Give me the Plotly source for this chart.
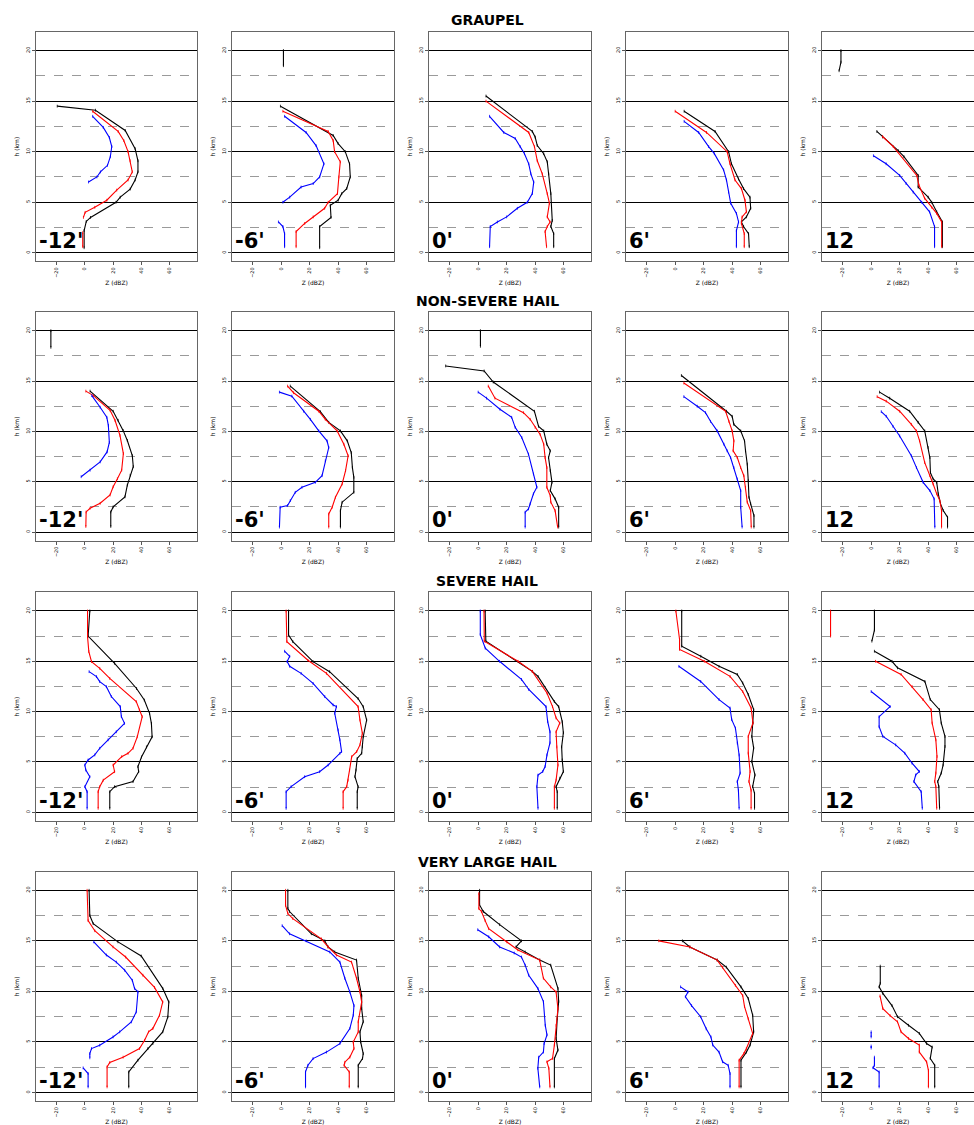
import plotly.graph_objects as go

# ---------------- data: (height km, Z dBZ) pairs per profile; None = gap ----------------
CATEGORIES = ["GRAUPEL", "NON-SEVERE HAIL", "SEVERE HAIL", "VERY LARGE HAIL"]
TIMES = ["-12'", "-6'", "0'", "6'", "12"]
Y_TICKS = [0, 5, 10, 15, 20]
Y_MINOR = [2.5, 7.5, 12.5, 17.5]
X_TICKS = [-20, 0, 20, 40, 60]

graupel_black = [
    [(0.5, -0.5), (2.2, -0.5), (3.1, 1), (3.5, 4), (5.0, 22), (5.5, 25), (6.3, 32), (7.2, 35.5), (8.0, 37.5),
     (9.1, 37.5), (10.3, 35.5), (12.1, 28.5), (14.1, 7.5), (14.5, -19.5)],
    [(0.5, 27), (2.6, 27), (3.5, 35), (4.7, 34.5), (5.2, 40), (5.85, 42.5), (6.35, 46), (7.5, 48.5), (8.8, 48),
     (10.0, 45), (10.8, 40), (11.6, 36.5), (14.5, -0.5), None, (18.5, 1.6), (20.0, 1.6)],
    [(0.6, 53), (1.9, 53), (2.6, 51), (3.2, 52), (5.85, 51), (7.8, 49.5), (9.0, 48.5), (9.8, 46), (10.6, 41.5),
     (11.45, 40), (12.0, 38), (15.5, 5.5)],
    [(0.6, 52), (1.9, 51.5), (2.6, 48), (3.05, 46.5), (3.55, 50), (4.4, 53), (5.5, 52.5), (6.35, 48), (7.3, 44.5),
     (8.8, 39.5), (10.0, 37.5), (12.0, 28), (14.0, 6.3)],
    [(0.6, 50), (3.05, 50), (4.05, 46), (5.0, 42.5), (5.5, 40), (6.5, 33), (7.65, 33), (9.5, 23), (10.1, 19),
     (11.45, 8), (12.0, 4), None, (18.0, -22.5), (18.85, -21.2), (20.0, -21.2)],
]
graupel_red = [
    [(0.6, -1.5), (2.0, -1.5), None, (3.5, -1), (4.0, 0.2), (4.5, 7), (5.2, 15.5), (6.2, 22.5), (7.2, 30.5),
     (8.0, 33.5), (9.1, 32), (10.0, 30.5), (11.1, 27.5), (12.0, 23.5), (14.0, 5.5)],
    [(0.6, 10.5), (2.1, 10.5), (2.9, 16.5), (3.55, 22.5), (4.4, 30.5), (5.0, 33), (5.85, 39.5), (7.5, 40.5),
     (9.0, 41.5), (10.0, 37.5), (11.1, 36.5), (12.0, 33), (14.0, 1.2)],
    [(0.6, 48), (2.1, 47), (2.6, 48.5), (3.05, 50.5), (3.55, 48.5), (4.9, 50), (5.85, 48.5), (7.8, 45), (9.1, 41.5),
     (10.5, 39.5), (11.9, 35.5), (15.0, 5.5)],
    [(0.6, 48.5), (1.9, 48.5), (2.9, 46.5), (3.55, 47), (4.05, 50), (5.2, 49), (6.35, 46.5), (7.2, 42), (8.8, 38.5),
     (10.0, 36.5), (11.9, 22), (14.0, 0)],
    [(0.6, 49.5), (3.05, 49.5), (3.9, 46), (4.5, 42.5), (5.4, 37.5), (6.7, 33.5), (7.65, 32), (10.5, 15.5),
     (11.5, 8)],
]
graupel_blue = [
    [(7.0, 2.6), (7.5, 8.5), (8.0, 11), (8.65, 16), (9.5, 18), (10.5, 19), (11.4, 17.3), (12.4, 13), (13.5, 5.5)],
    [(0.6, 2.4), (1.9, 2.4), (2.6, 1.2), (3.05, -1.9), None, (5.0, 1.2), (5.5, 6), (6.5, 14), (6.85, 22.5),
     (7.5, 27), (8.8, 30), (10.6, 24.5), (11.9, 17.5), (13.5, 2.4)],
    [(0.6, 8), (2.6, 8.5), (3.05, 13.5), (3.55, 20), (4.4, 27.5), (5.0, 34.5), (5.85, 38), (7.0, 39), (7.8, 37),
     (8.8, 35.5), (9.8, 32.5), (10.5, 29.5), (11.3, 26), (11.9, 18), (13.5, 8)],
    [(0.6, 43), (2.2, 43), (3.05, 44.5), (3.9, 43), (4.9, 39), (6.0, 37.5), (7.2, 36), (8.2, 34), (9.8, 27.5),
     (10.5, 23.5), (11.9, 16.5), (13.0, 6.3)],
    [(0.6, 44.5), (2.6, 44.5), (4.05, 41), (5.0, 35.5), (6.0, 29.5), (6.85, 24.5), (7.65, 20), (8.8, 10.5),
     (9.6, 1.6)],
]

nonsevere_black = [
    [(0.56, 18.3), (2.0, 18.3), (2.5, 20), (3.5, 28.3), (4.67, 30), (5.65, 32), (6.5, 34.2), (7.6, 33.5),
     (9.1, 30), (10.1, 27), (11.1, 23.5), (12.0, 20), (14.0, 3.7), None, (18.35, -24), (20.0, -24)],
    [(0.5, 41.6), (2.14, 41.6), (2.97, 42.8), (3.95, 51), (5.44, 51), (6.4, 50), (7.9, 49.2), (9.06, 46.4),
     (10.05, 41.6), (10.9, 33.4), (11.96, 27.5), (14.5, 6.4)],
    [(0.5, 56.5), (2.47, 56.5), (3.3, 54), (4.12, 50.6), (4.94, 51.8), (6.1, 50.6), (7.4, 49.4), (8.07, 50.6),
     (8.73, 48.2), (10.05, 46), (10.5, 42.4), (12.0, 39.5), (14.9, 10.6), (16.0, 4.2), (16.5, -22.8), None,
     (18.45, 1.6), (20.0, 1.6)],
    [(0.5, 55.3), (1.65, 55.3), (2.8, 53), (3.46, 51.8), (5.1, 51.3), (6.75, 50.6), (8.07, 49.4), (9.06, 48.7),
     (10.05, 46), (10.7, 41.2), (11.5, 40), (12.0, 36), (15.55, 4.4)],
    [(0.5, 53.6), (1.48, 53.6), (2.14, 50.6), (2.8, 48.7), (3.8, 47.1), (4.94, 46), (5.27, 43.5), (5.9, 41.6),
     (7.4, 41.2), (8.4, 40), (10.05, 37.6), (10.9, 33), (12.0, 27), (13.3, 13), (13.9, 5.9)],
]
nonsevere_red = [
    [(0.56, 0.7), (2.0, 0.9), (2.37, 3.7), (2.86, 10.8), (3.68, 17.8), (4.5, 20), (5.3, 23), (6.15, 26),
     (7.8, 27.2), (9.6, 24.8), (11.1, 21.3), (12.1, 17.8), (13.55, 6), (14.0, 0.7)],
    [(0.5, 33.4), (1.8, 33.4), (2.47, 35.8), (3.46, 38.1), (4.78, 42.8), (6.1, 45.2), (7.58, 47), (8.73, 44),
     (10.05, 39.3), (11.2, 31), (12.0, 26.4), (13.84, 8.7), (14.5, 4.5)],
    [(0.5, 55.8), (2.14, 54), (2.97, 51), (3.62, 50.6), (4.45, 48.2), (6.4, 48.2), (7.4, 47), (8.73, 46),
     (9.7, 43.5), (10.4, 40), (11.2, 36.5), (11.86, 31.8), (13.3, 11.8), (14.5, 7.1)],
    [(0.5, 53.4), (2.14, 53), (2.97, 50.6), (4.45, 49.4), (5.6, 48.2), (6.4, 46), (7.4, 43.6), (8.07, 40.7),
     (9.06, 41.2), (10.05, 40), (11.0, 37.7), (12.0, 35.4), (14.8, 6.1)],
    [(0.5, 49.4), (2.14, 49.4), (3.13, 48.2), (3.8, 46), (4.78, 43.5), (5.6, 41.2), (6.9, 37.6), (9.06, 34),
     (10.05, 31.8), (10.7, 28.2), (12.0, 20), (13.0, 10.6), (13.45, 4.2)],
]
nonsevere_blue = [
    [(5.5, -2.6), (6.15, 3.7), (6.97, 10.8), (7.96, 15.7), (8.9, 17.3), (10.6, 16.6), (11.4, 15.5),
     (12.4, 10.8), (13.55, 4.9)],
    [(0.5, -1.2), (2.47, -0.7), (2.64, 4.5), (3.13, 6.4), (3.95, 9.9), (4.45, 14.6), (4.94, 24), (5.6, 28.7),
     (7.08, 31), (8.4, 33.4), (9.06, 32.2), (10.05, 26.4), (11.2, 20.5), (12.0, 15.8), (13.5, 7.5),
     (13.9, -1.2)],
    [(0.5, 33), (1.98, 33), (2.3, 35.3), (2.8, 36.5), (3.8, 38.8), (4.45, 41.2), (5.77, 38.8), (7.74, 35.3),
     (9.4, 30.6), (10.4, 26), (11.4, 23.5), (12.2, 15.3), (13.3, 5.9), (13.9, 0)],
    [(0.5, 47), (2.47, 46), (4.12, 46), (5.27, 43.6), (6.4, 41.2), (7.4, 38.9), (8.07, 36.5), (8.73, 34.2),
     (10.05, 29.5), (11.0, 24.8), (11.86, 21.3), (12.5, 15.5), (13.45, 6.1)],
    [(0.5, 44.7), (3.3, 44.2), (4.12, 41.2), (4.94, 36.5), (6.4, 31.8), (7.58, 28.2), (9.55, 20), (10.5, 15.3),
     (11.5, 10.6), (11.96, 7.1)],
]

severe_black = [
    [(0.4, 17.6), (2.05, 17.6), (2.55, 21), (3.05, 34), (4.04, 38), (4.54, 37.5), (5.5, 40), (6.5, 43.5),
     (7.5, 47.5), (8.84, 47), (9.83, 45.7), (11.15, 42), (12.3, 36.5), (14.8, 21), (17.5, 2.3), (20.0, 3.5)],
    [(0.4, 53.4), (2.05, 53.4), (2.55, 54), (3.54, 51.8), (4.2, 52.5), (5.36, 53.4), (5.86, 56.5), (6.5, 57),
     (7.5, 57.6), (9.17, 60), (10.5, 57.6), (11.3, 54), (13.97, 34), (14.97, 22.4), (16.95, 8.2), (17.6, 5.2),
     (20.0, 5.2)],
    [(0.4, 55.5), (2.05, 55.5), (2.55, 54.7), (3.4, 57.3), (4.05, 59.8), (5.2, 59), (6.5, 58.6), (7.9, 59.8),
     (9.0, 59), (10.5, 56.5), (11.0, 53.5), (13.5, 42), (14.0, 38), (17.0, 5.4), (20.0, 4.9)],
    [(0.4, 55.7), (1.89, 55.7), (2.56, 54.4), (3.72, 56), (5.05, 53.8), (6.38, 55.1), (7.54, 53.8), (8.87, 54.6),
     (10.2, 55.1), (11.7, 51.3), (12.85, 47.4), (13.7, 43.6), (14.5, 30.8), (15.5, 18), (16.5, 4.6), (20.0, 4.6)],
    [(0.4, 48), (2.56, 47.5), (3.06, 46.7), (3.9, 49.2), (4.7, 50.5), (6.54, 51.8), (7.54, 51.8), (8.87, 49.2),
     (10.2, 47.9), (11.2, 41.5), (13.0, 37.7), (14.35, 18.5), (15.0, 14.6), (16.0, 2.3), None, (17.0, 0.5),
     (18.1, 2.3), (20.0, 2.3)],
]
severe_red = [
    [(0.4, 9.4), (2.05, 9.4), (2.55, 10.5), (3.2, 13), (4.04, 21), (4.7, 20), (5.53, 26), (5.86, 30.5),
     (6.36, 34), (7.5, 37), (9.5, 40.5), (10.17, 38.5), (11.0, 36.3), (13.3, 17.6), (14.3, 10.5), (14.97, 4.7),
     (15.96, 2.8), (17.45, 1.9), (20.0, 1.9)],
    [(0.4, 43.5), (2.05, 43.5), (2.55, 46), (3.2, 47), (4.2, 48), (5.53, 49.5), (6.03, 53), (6.7, 55.3),
     (7.85, 57), (9.17, 55.3), (10.5, 54), (13.8, 31.8), (15.1, 18.8), (16.95, 4), (20.0, 3.5)],
    [(0.4, 53.5), (2.55, 53.5), (3.2, 54.7), (4.7, 56), (6.5, 55.2), (8.0, 54.7), (8.87, 57.3), (9.37, 54.7),
     (10.5, 52.2), (11.85, 48.3), (14.0, 38), (15.0, 28), (17.0, 4.3), (20.0, 4.1)],
    [(0.4, 53.3), (2.2, 53.3), (3.06, 51.8), (4.05, 52.6), (5.88, 51.3), (7.54, 51.3), (8.87, 54.6),
     (10.36, 53.3), (12.0, 47.4), (13.5, 38.5), (15.0, 20.5), (16.17, 3.1), (17.17, 3.1), (20.0, 0.5)],
    [(0.4, 46), (2.56, 45.4), (3.06, 44.6), (3.9, 45.4), (5.55, 46.2), (7.2, 45.4), (8.87, 42.8), (10.2, 42.1),
     (11.2, 36.4), (12.5, 28.7), (13.7, 21), (15.0, 3.1), None, (17.5, -28.5), (20.0, -28.5)],
]
severe_blue = [
    [(0.4, 1.6), (2.05, 1.6), (2.55, 0), (3.54, 3.5), (4.2, 0.7), (4.7, 0), (5.2, 2.3), (5.7, 7), (6.36, 10.5),
     (7.2, 16.4), (8.0, 22.2), (8.84, 28), (9.5, 25.8), (10.5, 25), (11.5, 18.7), (12.48, 15.2), (12.98, 10.5),
     (13.48, 8.2), (13.97, 3)],
    [(0.4, 3.5), (2.05, 3.5), (2.55, 7), (3.54, 16.5), (4.04, 27), (4.7, 33), (5.86, 41.2), (6.03, 42.4),
     (7.2, 41.2), (8.18, 40), (9.83, 37.6), (10.5, 38.8), (10.66, 36.5), (11.5, 30.6), (12.8, 22.4), (13.8, 14),
     (14.5, 6), (14.97, 4.2), (15.5, 6), (16.0, 2.4)],
    [(0.4, 42), (2.55, 41.2), (3.7, 42), (4.05, 45.3), (4.55, 47), (5.7, 48.3), (6.9, 50.4), (8.0, 50.4),
     (9.0, 48.8), (10.5, 47.6), (12.2, 35.5), (13.2, 30.4), (15.0, 15), (16.3, 5), (17.65, 1.5), (20.0, 1.5)],
    [(0.4, 44.9), (2.2, 44.4), (3.06, 43.6), (3.9, 45.6), (5.7, 44.9), (6.88, 43.6), (8.37, 42.3), (9.2, 39.7),
     (10.36, 38.5), (11.2, 30.8), (13.0, 17.9), (14.5, 2.6)],
    [(0.4, 35.9), (2.06, 35.1), (3.06, 30), (3.72, 31.3), (4.05, 33.8), (4.88, 28.7), (5.88, 23.6), (6.7, 17.2),
     (7.54, 8.2), (8.5, 5.6), (9.5, 5.6), (10.5, 13.3), (12.0, 0)],
]

verylarge_black = [
    [(0.56, 31), (2.04, 31), (3.2, 37.5), (4.35, 44.5), (4.84, 48), (6.0, 55), (7.48, 58.6), (8.96, 59.3),
     (10.3, 55), (13.5, 39.8), (14.9, 23.4), (16.7, 5.9), (17.5, 3.5), (20.0, 3)],
    [(0.56, 54.1), (2.7, 54.1), (3.36, 57.1), (3.85, 57.6), (5.0, 55.8), (6.0, 55.3), (7.0, 57.6), (8.3, 56.5),
     (9.6, 56.5), (11.3, 54.1), (13.1, 52.9), (13.9, 37.6), (14.4, 32.9), (15.0, 30.6), (15.7, 21.2),
     (17.9, 5.9), (18.2, 4.7), (20.0, 4.7)],
    [(0.56, 53.5), (3.37, 53.5), (4.2, 56), (5.35, 54.7), (7.3, 55.5), (9.0, 56.5), (10.3, 56), (12.6, 50.9),
     (13.1, 43.2), (13.9, 33), (14.4, 26.6), (15.0, 30.4), (16.6, 15.1), (17.9, 3.6), (18.55, 1), (20.0, 1)],
    [(0.56, 46.2), (3.2, 46.2), (4.0, 50), (4.7, 52.6), (6.0, 55.1), (7.66, 54.4), (9.3, 51.3), (10.45, 46.2),
     (12.4, 35.9), (13.1, 29.5), (14.4, 10.3), (15.0, 5.1)],
    [(0.56, 44.6), (2.7, 44.6), (3.37, 41.5), (4.5, 42.8), (4.85, 38.9), (5.85, 33.8), (6.65, 26.2), (7.5, 18.5),
     (8.6, 14.6), (9.8, 8.2), (10.45, 5.6), (10.8, 6.4), (12.5, 6.4)],
]
verylarge_red = [
    [(0.56, 15.7), (2.54, 15.7), (2.97, 17.6), (3.5, 27), (4.35, 38.6), (5.17, 42.2), (6.0, 45), (6.33, 48),
     (7.64, 52.7), (8.96, 55), (10.4, 49.2), (11.6, 41), (13.4, 28.8), (14.4, 19.9), (16.0, 7), (17.0, 2.3),
     (20.0, 1.6)],
    [(0.56, 47.8), (2.04, 47.8), (2.7, 44.2), (3.0, 44.7), (3.5, 48.2), (4.35, 51.1), (5.0, 50.6), (6.0, 54.1),
     (7.0, 54.1), (8.96, 56.5), (9.95, 55.3), (11.3, 52.9), (12.9, 49.4), (13.6, 38.8), (14.4, 32.9),
     (15.2, 28.2), (17.2, 8.2), (17.7, 4.7), (18.5, 3.1), (20.0, 3.1)],
    [(0.56, 50.4), (2.4, 49.6), (3.04, 48.3), (3.37, 52.2), (4.7, 53.5), (6.65, 54.7), (8.3, 56), (9.95, 54.7),
     (10.45, 50.9), (11.3, 45.8), (13.1, 43.2), (14.1, 27.9), (14.9, 20.2), (16.2, 7.4), (17.0, 4.9),
     (17.9, 2.3), (18.2, 0.5), (19.7, 0.5)],
    [(0.56, 44.9), (3.2, 44.9), (3.85, 48.2), (4.35, 50), (5.85, 54.4), (7.3, 51.3), (8.5, 48.7), (9.6, 47.4),
     (10.6, 42.3), (12.4, 33.3), (13.1, 29.5), (14.4, 10.3), (15.0, -11.5)],
    [(0.56, 40.2), (2.2, 40.2), (3.04, 38.9), (4.0, 33.8), (4.7, 33.8), (5.35, 26.2), (6.0, 21), (7.0, 18.5),
     (7.6, 13.3), (8.3, 8.2), (9.55, 6.2)],
]
verylarge_blue = [
    [(0.56, 2.3), (1.88, 2.3), (2.44, -1.2), None, (3.43, 3.5), (3.85, 3.5), (4.35, 4.7), (4.68, 10.5),
     (5.5, 19.9), (6.0, 24.6), (6.98, 32.8), (7.97, 36.3), (9.95, 37.5), (10.3, 35.1), (11.1, 33.5),
     (12.1, 28.1), (12.9, 22.2), (13.6, 15.2), (14.9, 6.3)],
    [(0.56, 17.1), (2.04, 17.1), (2.7, 18.8), (3.36, 22.4), (4.0, 31.8), (4.84, 41.2), (6.33, 48.2),
     (7.64, 50.6), (8.6, 51.1), (9.95, 48.2), (11.3, 44.7), (12.9, 41.2), (13.9, 34.1), (15.0, 17.6),
     (15.7, 5.9), (16.5, 0.7)],
    [(0.56, 43.2), (2.4, 41.9), (3.5, 42.5), (4.0, 45.8), (4.85, 46.3), (5.7, 48.3), (6.65, 47.1), (9.0, 45.8),
     (10.3, 41.9), (11.6, 35.5), (12.6, 33), (13.4, 30.4), (13.8, 25.3), (14.4, 15.1), (15.4, 7.4),
     (16.1, -0.3)],
    [(0.56, 38.5), (1.88, 38.5), (2.7, 37.2), (3.04, 33.3), (4.0, 30.8), (4.7, 26.4), (5.5, 25.1), (6.3, 21.8),
     (7.5, 17.9), (8.6, 11.5), (9.47, 7.2), (9.95, 9), (10.45, 3.8)],
    [(0.56, 5.6), (2.04, 5.6), (2.45, 1.3), (2.7, 2.3), (3.5, 2.3), None, (4.4, 0), (4.6, 0), None,
     (5.5, 0), (6.0, 0)],
]

SERIES = [
    (graupel_black, graupel_red, graupel_blue),
    (nonsevere_black, nonsevere_red, nonsevere_blue),
    (severe_black, severe_red, severe_blue),
    (verylarge_black, verylarge_red, verylarge_blue),
]
COLORS = ["#000000", "#ff0000", "#0000ff"]

# ---------------- layout geometry (pixels) ----------------
W, H = 974, 1125
COL_PX = [(36, 197), (232, 394), (429, 591), (626, 788), (822, 984)]
ROW_PX = [(32, 262), (313, 542), (594, 823), (874, 1104)]
TITLE_Y_PX = [20, 302, 583, 864]
X_RANGE = [-34.5, 79.2]
Y_RANGE = [-0.84, 21.84]

fig = go.Figure()
layout = dict(width=W, height=H, margin=dict(l=0, r=0, t=0, b=0),
              paper_bgcolor="white", plot_bgcolor="white", showlegend=False,
              font=dict(family="DejaVu Sans", color="black"))
annotations = []

for r in range(4):
    for c in range(5):
        idx = r * 5 + c + 1
        xa = "x" if idx == 1 else f"x{idx}"
        ya = "y" if idx == 1 else f"y{idx}"
        x0, x1 = COL_PX[c]
        xr = list(X_RANGE)
        if x1 > W:
            frac = (W - x0) / (x1 - x0)
            xr[1] = X_RANGE[0] + (X_RANGE[1] - X_RANGE[0]) * frac
            x1 = W
        y0, y1 = ROW_PX[r]
        layout[f"xaxis{'' if idx == 1 else idx}"] = dict(
            domain=[x0 / W, x1 / W], anchor=ya, range=xr,
            tickmode="array", tickvals=X_TICKS, tickangle=-90,
            tickfont=dict(size=5), ticks="outside", ticklen=3, tickcolor="#555",
            showgrid=False, zeroline=False, showline=True, mirror=True,
            linecolor="#666", linewidth=1,
            title=dict(text="Z (dBZ)", font=dict(size=6, color="black"), standoff=3),
        )
        layout[f"yaxis{'' if idx == 1 else idx}"] = dict(
            domain=[1 - y1 / H, 1 - y0 / H], anchor=xa, range=Y_RANGE,
            tickmode="array", tickvals=Y_TICKS, tickangle=-90,
            tickfont=dict(size=5), ticks="outside", ticklen=3, tickcolor="#555",
            showgrid=True, gridcolor="#000000", gridwidth=1.4, zeroline=False,
            minor=dict(tickmode="array", tickvals=Y_MINOR, showgrid=True,
                       gridcolor="#9a9a9a", griddash="dash", gridwidth=1, ticks=""),
            showline=True, mirror=(c < 4), linecolor="#666", linewidth=1,
            title=dict(text="h (km)", font=dict(size=6, color="black"), standoff=4),
        )
        for k, color in enumerate(COLORS):
            prof = SERIES[r][k][c]
            xs = [p[1] if p is not None else None for p in prof]
            ys = [p[0] if p is not None else None for p in prof]
            fig.add_trace(go.Scatter(
                x=xs, y=ys, xaxis=xa, yaxis=ya, mode="lines+markers",
                line=dict(color=color, width=1.1),
                marker=dict(symbol="line-ns", size=2, line=dict(color=color, width=0.8)),
                connectgaps=False, hoverinfo="skip"))
        annotations.append(dict(
            text=f"<b>{TIMES[c]}</b>", xref=f"{xa} domain", yref=f"{ya} domain",
            x=0.005, y=0.088, xanchor="left", yanchor="middle", showarrow=False,
            font=dict(size=21, family="DejaVu Sans", color="black")))

for r, cat in enumerate(CATEGORIES):
    annotations.append(dict(
        text=f"<b>{cat}</b>", xref="paper", yref="paper", x=487 / W, y=1 - TITLE_Y_PX[r] / H,
        xanchor="center", yanchor="middle", showarrow=False,
        font=dict(size=14, family="DejaVu Sans", color="black")))

layout["annotations"] = annotations
fig.update_layout(**layout)
fig.write_html("out.html", config={"displayModeBar": False},
               post_script="document.body.style.margin='0';document.body.style.padding='0';")
